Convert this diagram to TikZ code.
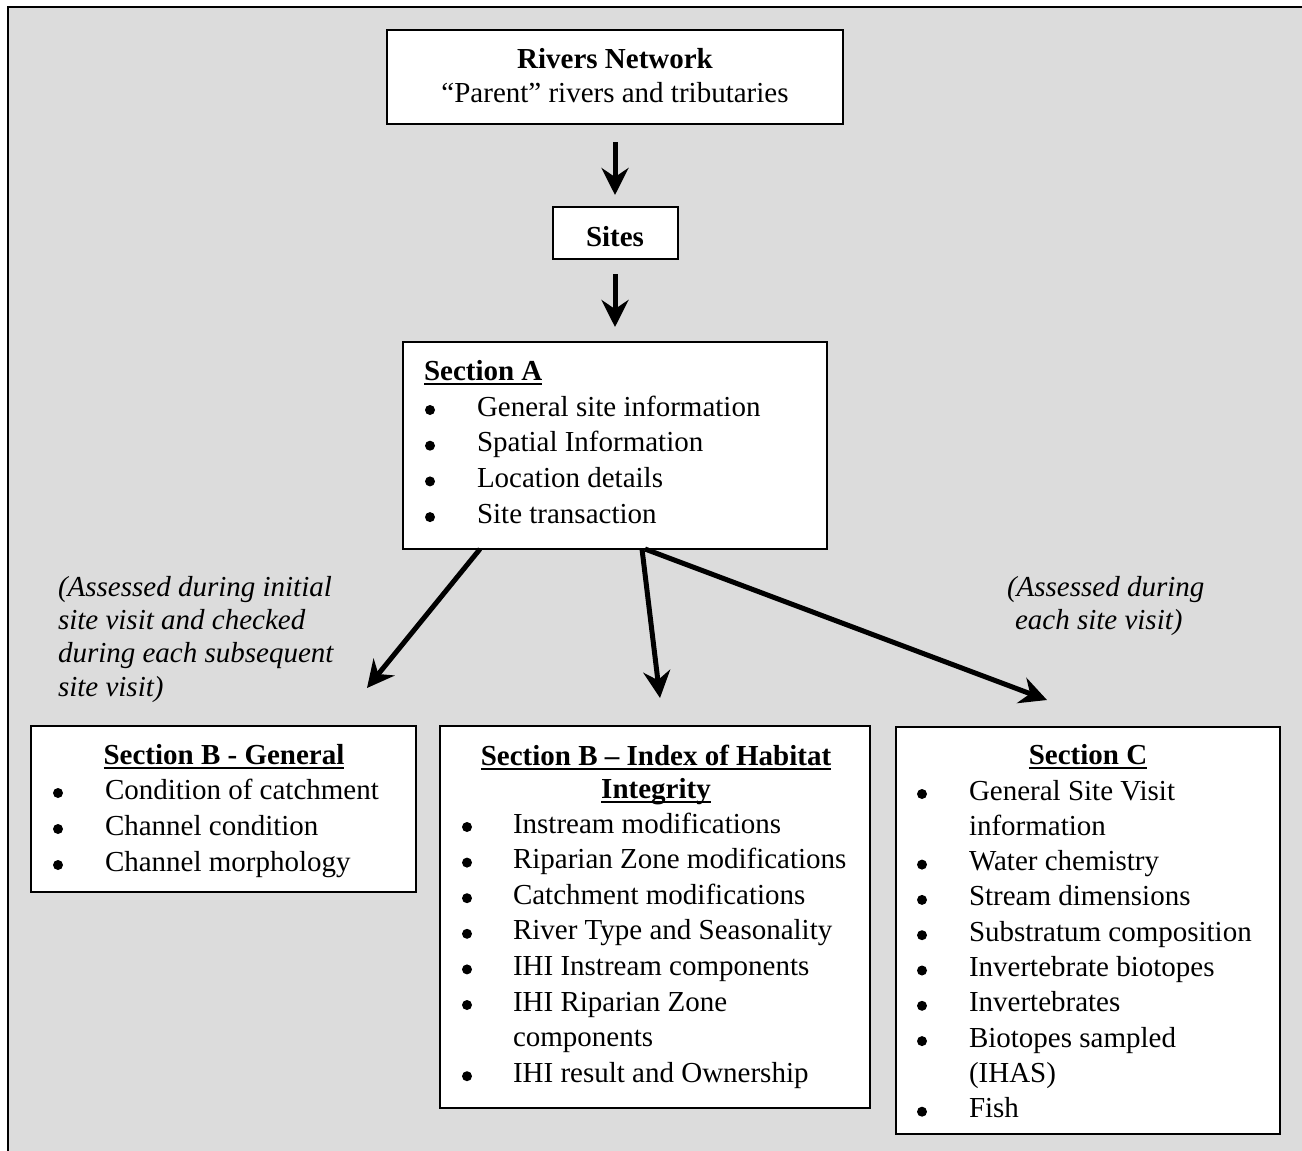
\documentclass[tikz,border=0pt]{standalone}
\usepackage{fontspec}
\setmainfont{Liberation Serif}
\usetikzlibrary{arrows.meta,calc}
\definecolor{bgray}{HTML}{DCDCDC}
\newcommand\myul[1]{\leavevmode\setbox0\hbox{#1}\rlap{\rule[-5pt]{\wd0}{2pt}}\box0}
\tikzset{
  box/.style={draw=black, line width=2pt, fill=white, outer sep=0pt, inner sep=0pt},
  txt/.style={inner sep=0pt, outer sep=0pt, font=\fontsize{29}{36}\selectfont},
  btxt/.style={inner sep=0pt, outer sep=0pt, font=\fontsize{29}{36}\selectfont\bfseries},
  itxt/.style={inner sep=0pt, outer sep=0pt, font=\fontsize{29}{36}\selectfont\itshape},
  dot/.style={circle, fill=black, inner sep=0pt, outer sep=0pt, minimum size=10pt},
  arr/.style={line width=5pt, -{Stealth[length=27pt, width=27pt, inset=9pt]}},
  frame/.style={draw=black, line width=2pt, fill=bgray}
}
\begin{document}
\begin{tikzpicture}[x=1pt,y=-1pt]
\useasboundingbox (0,0) rectangle (1302,1151);
\path[frame] (7.5,6.5) rectangle (1340,1190);

% boxes
\node[box, minimum width=456pt, minimum height=94pt] (rivers) at (615,77) {};
\node[box, minimum width=125pt, minimum height=52pt] (sites) at (615,233) {};
\node[box, minimum width=424pt, minimum height=207pt] (secA) at (615,445.5) {};
\node[box, minimum width=385pt, minimum height=166pt] (secBG) at (223.5,809) {};
\node[box, minimum width=430pt, minimum height=382pt] (secBI) at (655,917) {};
\node[box, minimum width=384pt, minimum height=407pt] (secC) at (1088,930.5) {};

% rivers network
\node[btxt, anchor=base] (rivT) at (615,68) {Rivers Network};
\node[txt, anchor=base] (rivS) at (615,102) {“Parent” rivers and tributaries};
% sites
\node[btxt, anchor=base] (sitT) at (615,246) {Sites};

% section A
\node[btxt, anchor=base west] (aT) at (424,380) {\myul{Section A}};
\foreach \t [count=\i from 0] in {General site information, Spatial Information, Location details, Site transaction} {
  \node[dot] (Ab\i) at (430,410+35.7*\i) {};
  \node[txt, anchor=base west] (A\i) at (477,416+35.7*\i) {\t};
}

% section B general
\node[btxt, anchor=base] (bgT) at (224,764) {\myul{Section B - General}};
\foreach \t [count=\i from 0] in {Condition of catchment, Channel condition, Channel morphology} {
  \node[dot] (BGb\i) at (58,793+36*\i) {};
  \node[txt, anchor=base west] (BG\i) at (105,799+36*\i) {\t};
}

% section B IHI
\node[btxt, anchor=base] (biT1) at (656,765) {\myul{Section B – Index of Habitat}};
\node[btxt, anchor=base] (biT2) at (656,798) {\myul{Integrity}};
\foreach \t/\b [count=\i from 0] in {Instream modifications/1, Riparian Zone modifications/1, Catchment modifications/1, River Type and Seasonality/1, IHI Instream components/1, IHI Riparian Zone/1, components/0, IHI result and Ownership/1} {
  \ifnum\b=1 \node[dot] (BIb\i) at (467,827+35.6*\i) {};\fi
  \node[txt, anchor=base west] (BI\i) at (513,833+35.6*\i) {\t};
}

% section C
\node[btxt, anchor=base] (cT) at (1088,764) {\myul{Section C}};
\foreach \t/\b [count=\i from 0] in {General Site Visit/1, information/0, Water chemistry/1, Stream dimensions/1, Substratum composition/1, Invertebrate biotopes/1, Invertebrates/1, Biotopes sampled/1, (IHAS)/0, Fish/1} {
  \ifnum\b=1 \node[dot] (Cb\i) at (922,794+35.3*\i) {};\fi
  \node[txt, anchor=base west] (C\i) at (969,800+35.3*\i) {\t};
}

% annotations
\node[itxt, anchor=base west] (L1) at (58,596) {(Assessed during initial};
\node[itxt, anchor=base west] (L2) at (58,629) {site visit and checked};
\node[itxt, anchor=base west] (L3) at (58,662) {during each subsequent};
\node[itxt, anchor=base west] (L4) at (58,696) {site visit)};
\node[itxt, anchor=base west] (R1) at (1007,596) {(Assessed during};
\node[itxt, anchor=base west] (R2) at (1015,629) {each site visit)};

% connectors
\draw[arr] ($(rivers.south)+(0,18)$) -- ($(sites.north)+(0,-12)$);
\draw[arr] ($(sites.south)+(0,15)$) -- ($(secA.north)+(0,-15)$);
\coordinate (tipL) at ($(secBG.north west)+(336,-38)$);
\coordinate (tipM) at ($(secBI.north west)+(220,-28)$);
\coordinate (tipR) at ($(secC.north west)+(151,-27)$);
\draw[arr] ($(secA.south west)+(77,0)$) -- (tipL);
\draw[arr] ($(secA.south west)+(239,0)$) -- (tipM);
\draw[arr] ($(secA.south west)+(242,0)$) -- (tipR);
\end{tikzpicture}
\end{document}
